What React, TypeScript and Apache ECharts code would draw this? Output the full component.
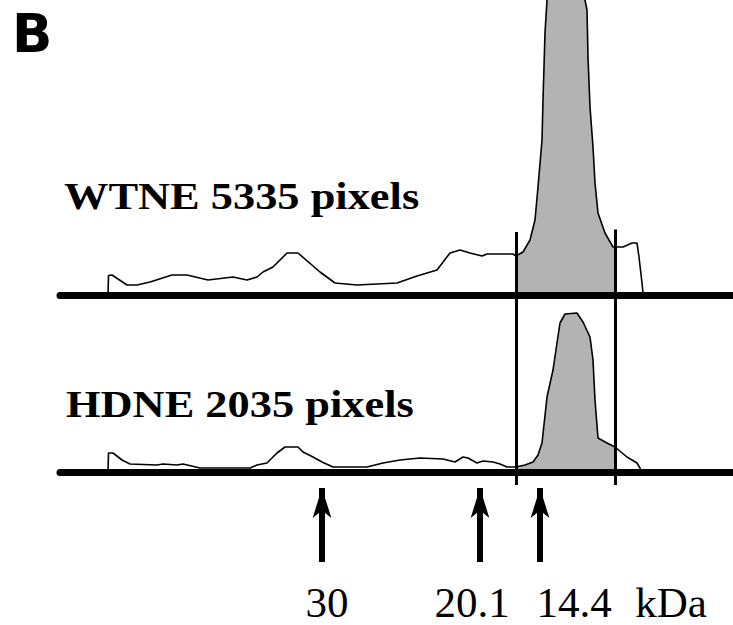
import React, { useEffect, useRef } from "react";
import * as echarts from "echarts";

// Densitometry traces: [migration position, intensity above baseline]
const wtneTrace: number[][] = [
  [108, 0], [108.5, 20], [112, 20.5], [115, 18.5], [127, 10.5], [137, 10.5], [150, 13.5],
  [172, 20.5], [187, 20.5], [208, 15.5], [233, 18.5], [247, 15.5], [257, 18.5], [263, 23.5],
  [273, 28.5], [287, 42.5], [298, 42.5], [320, 23.5], [335, 12.5], [357, 10.5], [397, 12.5],
  [417, 19.5], [437, 25.5], [450, 42.5], [460, 45.5], [470, 42.5], [482, 39.5], [487, 41.5],
  [513, 41.5], [516, 39.5], [523, 43.5], [530, 55.5], [535, 75.5], [538, 108.5], [542, 155.5],
  [543, 195.5], [545, 262.5], [547, 295.5], [550, 335], [566, 365], [582, 335], [585, 295.5],
  [587, 285.5], [588, 238.5], [590, 188.5], [593, 148.5], [595, 112.5], [598, 82.5],
  [605, 62.5], [613, 48.5], [615, 48.5], [623, 48.5], [632, 52.5], [637, 52.5], [639, 38.5],
  [642, 12.5], [643, 2.5], [643.5, 0],
];

const hdneTrace: number[][] = [
  [108, 0], [108.5, 19.5], [110, 19.5], [113, 19.5], [122, 12.5], [130, 8.5], [157, 7.5],
  [163, 8.5], [177, 7.5], [183, 8.5], [200, 4.5], [250, 4.5], [257, 7.5], [267, 9.5],
  [277, 19.5], [285, 25.5], [298, 25.5], [303, 20.5], [313, 15.5], [322, 10.5], [333, 5.5],
  [353, 5.5], [367, 5.5], [383, 9.5], [400, 12.5], [420, 14.5], [443, 13.5], [455, 10.5],
  [463, 15.5], [468, 14.5], [477, 9.5], [483, 11.5], [493, 10.5], [500, 8.5], [507, 5.5],
  [516, 5.5], [525, 7.5], [533, 10.5], [538, 17.5], [542, 29.5], [547, 75.5], [553, 102.5],
  [557, 129.5], [560, 149.5], [565, 158.5], [577, 159.5], [583, 150.5], [590, 135.5],
  [593, 112.5], [595, 72.5], [598, 34.5], [607, 29.5], [615, 25.5], [627, 15.5],
  [637, 9.5], [640, 4.5], [640.5, 0],
];

// Integration window
const windowStart = 516;
const windowEnd = 615;

// Molecular weight markers
const markerPositions = [322, 480, 540];
const tickLabels = ["30", "20.1", "14.4", "kDa"];
const tickLabelPositions = [327, 472, 574, 671];

const sampleLabels = ["WTNE 5335 pixels", "HDNE 2035 pixels"];

export default function App() {
  const ref = useRef<HTMLDivElement>(null);
  useEffect(() => {
    if (!ref.current) return;
    const chart = echarts.init(ref.current, null, { renderer: "svg" });
    const inWindow = (d: number[]) => d[0] >= windowStart && d[0] <= windowEnd;
    const serif = "Liberation Serif";
    const xAxisBase = {
      type: "value" as const,
      min: 60,
      max: 733,
      z: 5,
      axisLine: { show: true, onZero: true, lineStyle: { color: "#000", width: 7 } },
      axisTick: { show: false },
      axisLabel: { show: false },
      splitLine: { show: false },
    };
    chart.setOption({
      animation: false,
      grid: [
        { left: 60, right: 0, top: 0, bottom: 329.5 },
        { left: 60, right: 0, top: 0, bottom: 0 },
      ],
      xAxis: [
        { ...xAxisBase, gridIndex: 0 },
        { ...xAxisBase, gridIndex: 1 },
      ],
      yAxis: [
        { type: "value", gridIndex: 0, min: 0, max: 295.5, show: false, splitLine: { show: false } },
        { type: "value", gridIndex: 1, min: -152.5, max: 472.5, show: false, splitLine: { show: false } },
      ],
      graphic: [
        {
          type: "text",
          x: 12,
          y: 33.7,
          style: {
            text: "B",
            fontFamily: "DejaVu Sans",
            fontWeight: "bold",
            fontSize: 53,
            fill: "#000",
            verticalAlign: "middle",
            align: "left",
          },
        },
        {
          type: "text",
          x: 64,
          y: 196.5,
          scaleX: 1.2,
          style: {
            text: sampleLabels[0],
            fontFamily: serif,
            fontWeight: "bold",
            fontSize: 37,
            fill: "#000",
            verticalAlign: "middle",
            align: "left",
          },
        },
        {
          type: "text",
          x: 66,
          y: 404.5,
          scaleX: 1.2,
          style: {
            text: sampleLabels[1],
            fontFamily: serif,
            fontWeight: "bold",
            fontSize: 37,
            fill: "#000",
            verticalAlign: "middle",
            align: "left",
          },
        },
      ],
      series: [
        {
          type: "line",
          xAxisIndex: 0,
          yAxisIndex: 0,
          data: wtneTrace.filter(inWindow),
          symbol: "none",
          lineStyle: { opacity: 0 },
          areaStyle: { color: "#b3b3b3", opacity: 1 },
          z: 1,
          silent: true,
        },
        {
          type: "line",
          xAxisIndex: 1,
          yAxisIndex: 1,
          data: hdneTrace.filter(inWindow),
          symbol: "none",
          lineStyle: { opacity: 0 },
          areaStyle: { color: "#b3b3b3", opacity: 1 },
          z: 1,
          silent: true,
        },
        {
          type: "line",
          xAxisIndex: 0,
          yAxisIndex: 0,
          data: wtneTrace,
          symbol: "none",
          lineStyle: { color: "#000", width: 1.6 },
          z: 3,
          silent: true,
        },
        {
          type: "line",
          xAxisIndex: 1,
          yAxisIndex: 1,
          data: hdneTrace,
          symbol: "none",
          lineStyle: { color: "#000", width: 1.6 },
          z: 3,
          silent: true,
          markLine: {
            silent: true,
            symbol: ["none", "none"],
            label: { show: false },
            lineStyle: { color: "#000", width: 3, type: "solid" },
            z: 4,
            data: [
              [{ coord: [windowStart, -12.5] }, { coord: [windowStart, 240.5] }],
              [{ coord: [windowEnd, -12.5] }, { coord: [windowEnd, 243] }],
            ],
          },
        },
        {
          type: "scatter",
          xAxisIndex: 1,
          yAxisIndex: 1,
          symbolSize: 0,
          silent: true,
          itemStyle: { opacity: 1, color: "#000" },
          data: tickLabels.map((t, i) => [tickLabelPositions[i], -130, t]),
          label: {
            show: true,
            position: "inside",
            formatter: (p: any) => p.value[2],
            fontFamily: serif,
            fontSize: 43,
            lineHeight: 36,
            color: "#000",
            opacity: 1,
            textBorderWidth: 0,
          },
          markLine: {
            silent: true,
            symbol: ["none", "arrow"],
            symbolSize: [14, 30],
            label: { show: false },
            lineStyle: { color: "#000", width: 6, type: "solid", opacity: 1 },
            itemStyle: { color: "#000" },
            data: markerPositions.map((x) => [
              { coord: [x, -89.5] },
              { coord: [x, -15.5] },
            ]),
          },
        },
      ],
    });
    return () => chart.dispose();
  }, []);
  return (
    <div
      ref={ref}
      style={{ position: "fixed", left: 0, top: 0, width: 733, height: 625, background: "#fff" }}
    />
  );
}
